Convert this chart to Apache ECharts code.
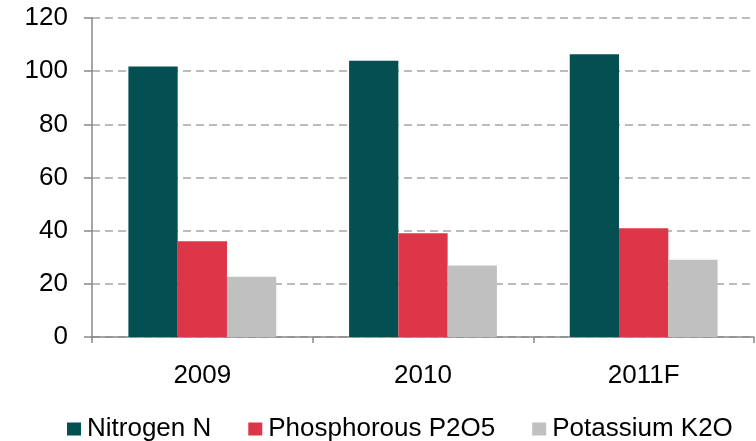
<!DOCTYPE html>
<html>
<head>
<meta charset="utf-8">
<script src="https://cdn.jsdelivr.net/npm/echarts@6/dist/echarts.min.js"></script>
<style>
  html, body { margin: 0; padding: 0; background: #fff; }
  #chart { width: 756px; height: 441px; }
</style>
</head>
<body>
<div id="chart"></div>
<script>
// 数据
var years = ["2009", "2010", "2011F"];
var nitrogen = [101.8, 103.9, 106.4];
var phosphorous = [36.0, 39.0, 40.9];
var potassium = [22.7, 26.9, 29.1];

var myChart = echarts.init(document.getElementById("chart"));
var font = "Liberation Sans, Arial, sans-serif";

var option = {
  animation: false,
  color: ["#034f52", "#dd3649", "#c0c0c0"],
  grid: {
    left: 92,
    right: 2,
    top: 18,
    bottom: 104,
  },
  legend: {
    data: ["Nitrogen N", "Phosphorous P2O5", "Potassium K2O"],
    left: 62,
    top: 411,
    icon: "rect",
    itemWidth: 14,
    itemHeight: 13,
    itemGap: 37,
    textStyle: {
      color: "#000",
      fontSize: 26,
      fontFamily: font,
      padding: [0, 0, 0, 1],
    },
  },
  xAxis: {
    type: "category",
    data: years,
    axisLine: { lineStyle: { color: "#888", width: 1.5 } },
    axisTick: { show: true, length: 6, lineStyle: { color: "#888", width: 1.5 } },
    axisLabel: {
      color: "#000",
      fontSize: 26,
      fontFamily: font,
      margin: 26,
    },
  },
  yAxis: {
    type: "value",
    min: 0,
    max: 120,
    interval: 20,
    axisLine: { show: true, lineStyle: { color: "#888", width: 1.5 } },
    axisTick: { show: true, length: 8, lineStyle: { color: "#888", width: 1.5 } },
    axisLabel: {
      color: "#000",
      fontSize: 26,
      fontFamily: font,
      margin: 24,
    },
    splitLine: {
      lineStyle: { color: "#a6a6a6", type: [8, 5], width: 1.5 },
    },
  },
  series: [
    {
      name: "Nitrogen N",
      type: "bar",
      data: nitrogen,
      barGap: "0%",
      barCategoryGap: "33%",
    },
    {
      name: "Phosphorous P2O5",
      type: "bar",
      data: phosphorous,
    },
    {
      name: "Potassium K2O",
      type: "bar",
      data: potassium,
    },
  ],
};
// 绘制图表
myChart.setOption(option);
</script>
</body>
</html>
